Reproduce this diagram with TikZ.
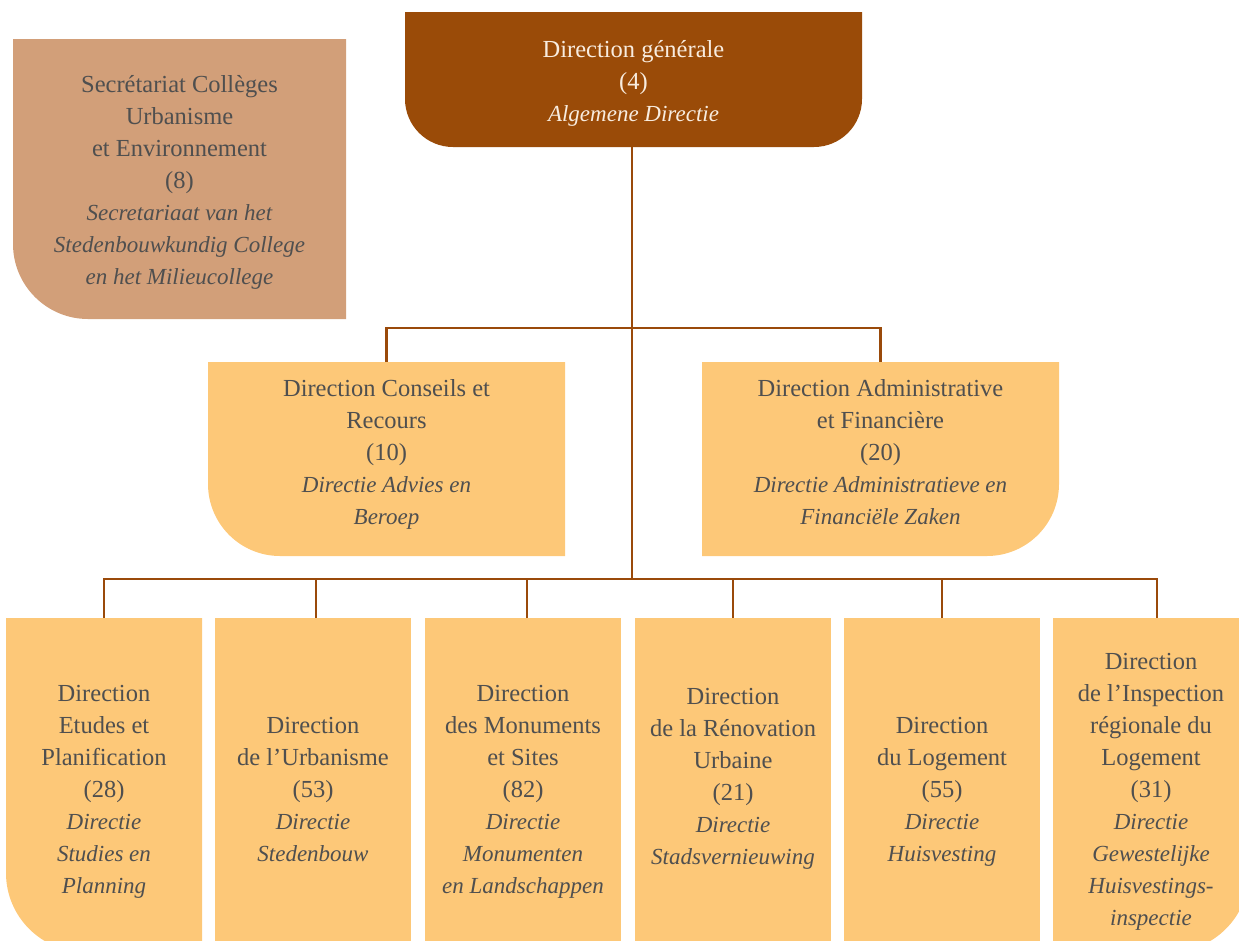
\documentclass[tikz,border=0pt]{standalone}
\usepackage{fontspec}
\setmainfont{Liberation Serif}
\usetikzlibrary{backgrounds}
\definecolor{dgbrown}{HTML}{9A4B08}
\definecolor{secbrown}{HTML}{D29F79}
\definecolor{lightor}{HTML}{FDC878}
\definecolor{txtgray}{HTML}{4F4F4F}
\definecolor{toptxt}{HTML}{F8ECDF}
\definecolor{linebrown}{HTML}{9A4A0A}
\newcommand\fillBL[3]{%
  \fill[#3] (#1.north west) -- (#1.north east) -- (#1.south east)
    -- ([xshift=#2]#1.south west)
    .. controls ([xshift={0.448*#2}]#1.south west) and ([yshift={0.448*#2}]#1.south west)
    .. ([yshift=#2]#1.south west) -- cycle;}
\newcommand\fillBR[3]{%
  \fill[#3] (#1.north west) -- (#1.north east) -- ([yshift=#2]#1.south east)
    .. controls ([yshift={0.448*#2}]#1.south east) and ([xshift={-0.448*#2}]#1.south east)
    .. ([xshift=-#2]#1.south east) -- (#1.south west) -- cycle;}
\newcommand\fillBB[3]{%
  \fill[#3] (#1.north west) -- (#1.north east) -- ([yshift=#2]#1.south east)
    .. controls ([yshift={0.448*#2}]#1.south east) and ([xshift={-0.448*#2}]#1.south east)
    .. ([xshift=-#2]#1.south east) -- ([xshift=#2]#1.south west)
    .. controls ([xshift={0.448*#2}]#1.south west) and ([yshift={0.448*#2}]#1.south west)
    .. ([yshift=#2]#1.south west) -- cycle;}
\newcommand\fillSQ[2]{%
  \fill[#2] (#1.north west) rectangle (#1.south east);}
\newcommand\dit{\fontsize{23}{32}\selectfont\itshape}
\tikzset{
  orgbox/.style={inner sep=0pt, outer sep=0pt, align=center, text=txtgray,
    font=\fontsize{24.5}{32}\selectfont},
  botbox/.style={orgbox, minimum width=196, minimum height=334},
  conn/.style={draw=linebrown, line width=2.2pt}
}
\begin{document}
\begin{tikzpicture}[x=1pt,y=-1pt]
\useasboundingbox (0,0) rectangle (1239,940);
\clip (0,0) rectangle (1239,940);
% nodes
\node[orgbox, text=toptxt, minimum width=457, minimum height=135] (dg) at (633.5,79.5)
  {Direction générale\\(4)\\\dit Algemene Directie\\[-35pt]};
\node[orgbox, minimum width=333, minimum height=280] (sec) at (179.5,179)
  {Secrétariat Collèges\\Urbanisme\\et Environnement\\(8)\\\dit Secretariaat van het\\\dit Stedenbouwkundig College\\\dit en het Milieucollege\\[-34pt]};
\node[orgbox, minimum width=357, minimum height=194] (dcr) at (386.5,459)
  {Direction Conseils et\\Recours\\(10)\\\dit Directie Advies en\\\dit Beroep\\[-18pt]};
\node[orgbox, minimum width=357, minimum height=194] (daf) at (880.5,459)
  {Direction Administrative\\et Financière\\(20)\\\dit Directie Administratieve en\\\dit Financiële Zaken\\[-18pt]};
\node[botbox] (b1) at (104,785)
  {Direction\\Etudes et\\Planification\\(28)\\\dit Directie\\\dit Studies en\\\dit Planning\\[-40pt]};
\node[botbox] (b2) at (313,785)
  {Direction\\de l’Urbanisme\\(53)\\\dit Directie\\\dit Stedenbouw\\[-40pt]};
\node[botbox] (b3) at (523,785)
  {Direction\\des Monuments\\et Sites\\(82)\\\dit Directie\\\dit Monumenten\\\dit en Landschappen\\[-40pt]};
\node[botbox] (b4) at (733,785)
  {Direction\\de la Rénovation\\Urbaine\\(21)\\\dit Directie\\\dit Stadsvernieuwing\\[-14pt]};
\node[botbox] (b5) at (942,785)
  {Direction\\du Logement\\(55)\\\dit Directie\\\dit Huisvesting\\[-40pt]};
\node[botbox] (b6) at (1151,785)
  {Direction\\de l’Inspection\\régionale du\\Logement\\(31)\\\dit Directie\\\dit Gewestelijke\\\dit Huisvestings-\\\dit inspectie\\[-40pt]};
% shapes behind
\begin{scope}[on background layer]
  \fillBB{dg}{48}{dgbrown}
  \fillBL{sec}{75}{secbrown}
  \fillBL{dcr}{72}{lightor}
  \fillBR{daf}{72}{lightor}
  \fillBL{b1}{79}{lightor}
  \fillSQ{b2}{lightor}
  \fillSQ{b3}{lightor}
  \fillSQ{b4}{lightor}
  \fillSQ{b5}{lightor}
  \fillBR{b6}{79}{lightor}
\end{scope}
% connectors
\coordinate (j1) at (632,328);
\coordinate (j2) at (632,579);
\begin{scope}[on background layer]
\draw[conn] (dg.south -| j1) -- (j2);
\draw[conn] (dcr.north) |- (j1) -| (daf.north);
\draw[conn] (b1.north) |- (j2) -| ([xshift=6]b6.north);
\draw[conn] ([xshift=3]b2.north) -- ([xshift=3]b2.north |- j2);
\draw[conn] ([xshift=4]b3.north) -- ([xshift=4]b3.north |- j2);
\draw[conn] (b4.north) -- (b4.north |- j2);
\draw[conn] (b5.north) -- (b5.north |- j2);
\end{scope}
\end{tikzpicture}
\end{document}
